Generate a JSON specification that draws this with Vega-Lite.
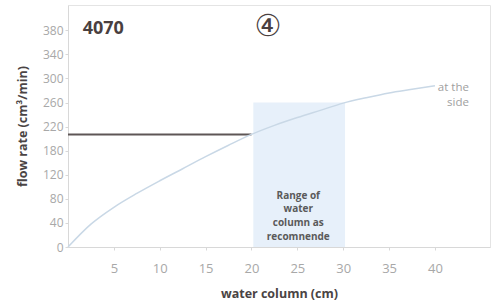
{
  "$schema": "https://vega.github.io/schema/vega-lite/v6.json",
  "autosize": "none",
  "width": 422,
  "height": 242,
  "padding": {"left": 68, "top": 5, "right": 10, "bottom": 55},
  "background": "white",
  "config": {
    "font": "Open Sans",
    "view": {"stroke": "#e4e4e4", "strokeWidth": 1},
    "axis": {"labelOverlap": false},
    "axisY": {"labelOverlap": false}
  },
  "datasets": {
    "curve": [
      {"wc": 0, "flow": 0}, {"wc": 2.5, "flow": 38}, {"wc": 5, "flow": 66}, {"wc": 7.5, "flow": 89},
      {"wc": 10, "flow": 110}, {"wc": 12.5, "flow": 130}, {"wc": 15, "flow": 150}, {"wc": 17.5, "flow": 169},
      {"wc": 20, "flow": 187}, {"wc": 22.5, "flow": 202}, {"wc": 25, "flow": 215}, {"wc": 27.5, "flow": 227},
      {"wc": 30, "flow": 239}, {"wc": 32.5, "flow": 248}, {"wc": 35, "flow": 256}, {"wc": 37.5, "flow": 262},
      {"wc": 40, "flow": 268}
    ],
    "hline": [{"wc": 0, "flow": 187}, {"wc": 20, "flow": 187}],
    "band": [{"x1": 20.2, "x2": 30.2, "y1": 0, "y2": 240}],
    "bandtext": [
      {"wc": 25.1, "flow": 85, "t": "Range of"},
      {"wc": 25.1, "flow": 63, "t": "water"},
      {"wc": 25.1, "flow": 40, "t": "column as"},
      {"wc": 25.1, "flow": 16, "t": "recomnende"}
    ],
    "side": [
      {"wc": 43.7, "flow": 264, "t": "at the"},
      {"wc": 43.7, "flow": 239, "t": "side"}
    ],
    "title": [{"wc": 1.6, "flow": 362, "t": "4070"}],
    "circ": [{"wc": 21.8, "flow": 366, "t": "④"}]
  },
  "encoding": {
    "x": {"type": "quantitative", "scale": {"domain": [0, 46], "nice": false},
      "axis": {"values": [5, 10, 15, 20, 25, 30, 35, 40], "title": "water column (cm)", "grid": false,
        "labelOverlap": false,
        "domainColor": "#d8d8d8", "tickColor": "#d8d8d8", "tickSize": 3,
        "labelColor": "#a8a8a8", "labelFontSize": 13, "labelPadding": 12,
        "titleColor": "#4a4444", "titleFontSize": 12.5, "titleFontWeight": "bold", "titlePadding": 12}},
    "y": {"type": "quantitative", "scale": {"domain": [0, 402], "nice": false},
      "axis": {"values": [0, 40, 80, 120, 160, 200, 240, 280, 320, 360],
        "labelExpr": "datum.value >= 160 ? datum.value + 20 : datum.value",
        "labelOverlap": false,
        "title": "flow rate (cm³/min)", "grid": false,
        "domainColor": "#d8d8d8", "tickColor": "#d8d8d8", "tickSize": 3,
        "labelColor": "#a8a8a8", "labelFontSize": 12, "labelPadding": 2,
        "titleColor": "#4a4444", "titleFontSize": 12.5, "titleFontWeight": "bold", "titlePadding": 13}}
  },
  "layer": [
    {
      "data": {"name": "band"},
      "mark": {"type": "rect", "color": "#e7f0fa"},
      "encoding": {
        "x": {"field": "x1", "type": "quantitative"},
        "x2": {"field": "x2"},
        "y": {"field": "y1", "type": "quantitative"},
        "y2": {"field": "y2"}
      }
    },
    {
      "data": {"name": "hline"},
      "mark": {"type": "line", "color": "#5e5656", "strokeWidth": 2},
      "encoding": {
        "x": {"field": "wc", "type": "quantitative"},
        "y": {"field": "flow", "type": "quantitative"}
      }
    },
    {
      "data": {"name": "curve"},
      "mark": {"type": "line", "color": "#c9d8e6", "strokeWidth": 1.5, "interpolate": "monotone"},
      "encoding": {
        "x": {"field": "wc", "type": "quantitative"},
        "y": {"field": "flow", "type": "quantitative"}
      }
    },
    {
      "data": {"name": "bandtext"},
      "mark": {"type": "text", "fontSize": 10, "fontWeight": "bold", "color": "#5a5a5a", "align": "center", "baseline": "middle"},
      "encoding": {
        "x": {"field": "wc", "type": "quantitative"},
        "y": {"field": "flow", "type": "quantitative"},
        "text": {"field": "t"}
      }
    },
    {
      "data": {"name": "side"},
      "mark": {"type": "text", "fontSize": 11.5, "color": "#a0a0a0", "align": "right", "baseline": "middle"},
      "encoding": {
        "x": {"field": "wc", "type": "quantitative"},
        "y": {"field": "flow", "type": "quantitative"},
        "text": {"field": "t"}
      }
    },
    {
      "data": {"name": "title"},
      "mark": {"type": "text", "fontSize": 18, "fontWeight": "bold", "color": "#4a3f3f", "align": "left", "baseline": "middle"},
      "encoding": {
        "x": {"field": "wc", "type": "quantitative"},
        "y": {"field": "flow", "type": "quantitative"},
        "text": {"field": "t"}
      }
    },
    {
      "data": {"name": "circ"},
      "mark": {"type": "text", "font": "DejaVu Sans", "fontSize": 30, "color": "#4a4040", "align": "center", "baseline": "middle"},
      "encoding": {
        "x": {"field": "wc", "type": "quantitative"},
        "y": {"field": "flow", "type": "quantitative"},
        "text": {"field": "t"}
      }
    }
  ]
}
